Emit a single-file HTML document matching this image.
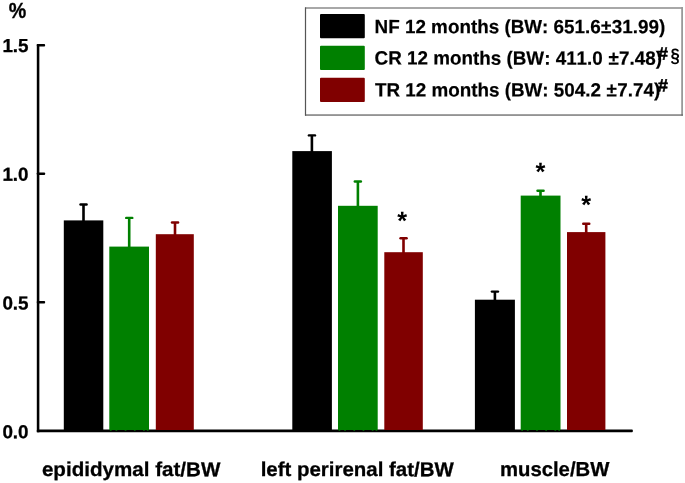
<!DOCTYPE html>
<html><head><meta charset="utf-8"><title>chart</title>
<style>
html,body{margin:0;padding:0;background:#fff;}
svg{display:block;}
text{font-family:"Liberation Sans",sans-serif;font-weight:bold;fill:#000;font-kerning:none;}
</style></head><body>
<svg width="685" height="483" viewBox="0 0 685 483">
<rect width="685" height="483" fill="#fff"/>
<!-- axes -->
<rect x="36.8" y="44.1" width="2.55" height="388.2" fill="#000"/>
<rect x="36.8" y="429.6" width="596" height="2.7" rx="0.8" fill="#000"/>
<rect x="36.8" y="44.1" width="8.3" height="2.5" rx="0.8" fill="#000"/>
<rect x="36.8" y="172.5" width="8.3" height="2.5" rx="0.8" fill="#000"/>
<rect x="36.8" y="301" width="8.3" height="2.5" rx="0.8" fill="#000"/>
<!-- y labels -->
<text x="8.8" y="18" font-size="20" textLength="17.5" lengthAdjust="spacingAndGlyphs" transform="translate(0,18) scale(1,1.145) translate(0,-18)" stroke="#000" stroke-width="0.3">%</text>
<text x="2.4" y="51.9" font-size="18.85" stroke="#000" stroke-width="0.3" transform="rotate(0.03 15 46)">1.5</text>
<text x="2.4" y="180.7" font-size="18.85" stroke="#000" stroke-width="0.3" transform="rotate(0.03 15 175)">1.0</text>
<text x="2.4" y="309.4" font-size="18.85" stroke="#000" stroke-width="0.3" transform="rotate(0.03 15 303)">0.5</text>
<text x="2.4" y="438.2" font-size="18.85" stroke="#000" stroke-width="0.3" transform="rotate(0.03 15 432)">0.0</text>
<!-- error bars group1 -->
<g fill="#000">
<rect x="82.2" y="204.3" width="2.6" height="17"/><rect x="79.3" y="203.3" width="8.5" height="2.4" rx="1.2"/>
<rect x="310.6" y="135.2" width="2.6" height="17"/><rect x="307.7" y="134.2" width="8.5" height="2.4" rx="1.2"/>
<rect x="493.6" y="291.4" width="2.6" height="10"/><rect x="490.7" y="290.4" width="8.5" height="2.4" rx="1.2"/>
</g>
<g fill="#008000">
<rect x="127.9" y="217.7" width="2.6" height="30"/><rect x="125" y="216.7" width="8.5" height="2.4" rx="1.2"/>
<rect x="356.6" y="181.3" width="2.6" height="26"/><rect x="353.6" y="180.3" width="8.5" height="2.4" rx="1.2"/>
<rect x="539.2" y="190.5" width="2.6" height="7"/><rect x="536.3" y="189.5" width="8.5" height="2.4" rx="1.2"/>
</g>
<g fill="#800000">
<rect x="173.7" y="222.3" width="2.6" height="13"/><rect x="170.8" y="221.3" width="8.5" height="2.4" rx="1.2"/>
<rect x="402.2" y="237.6" width="2.6" height="16"/><rect x="399.3" y="237" width="8.5" height="2.4" rx="1.2"/>
<rect x="584.9" y="223.5" width="2.6" height="10"/><rect x="582" y="222.5" width="8.5" height="2.4" rx="1.2"/>
</g>
<!-- group1 -->
<rect x="63.8" y="220.4" width="39.5" height="209.6" fill="#000"/>
<rect x="109.3" y="246.6" width="39.7" height="183.4" fill="#008000"/>
<rect x="155.8" y="234.2" width="38" height="195.8" fill="#800000"/>
<!-- group2 -->
<rect x="292.3" y="151.1" width="39.6" height="278.9" fill="#000"/>
<rect x="338" y="205.8" width="39.7" height="224.2" fill="#008000"/>
<rect x="384.3" y="252.2" width="38.5" height="177.8" fill="#800000"/>
<!-- group3 -->
<rect x="474.9" y="299.7" width="40" height="130.3" fill="#000"/>
<rect x="520.7" y="195.6" width="39.8" height="234.4" fill="#008000"/>
<rect x="567" y="232.1" width="38.4" height="197.9" fill="#800000"/>
<g fill="#008000" opacity="0.75">
<rect x="109.9" y="429.9" width="1.7" height="1"/><rect x="115.5" y="429.9" width="1.7" height="1"/><rect x="124.7" y="429.9" width="1.7" height="1"/><rect x="133.9" y="429.9" width="1.7" height="1"/><rect x="143.1" y="429.9" width="1.7" height="1"/><rect x="146.9" y="429.9" width="1.7" height="1"/>
<rect x="338.6" y="429.9" width="1.7" height="1"/><rect x="344.2" y="429.9" width="1.7" height="1"/><rect x="353.4" y="429.9" width="1.7" height="1"/><rect x="362.6" y="429.9" width="1.7" height="1"/><rect x="371.8" y="429.9" width="1.7" height="1"/><rect x="375.6" y="429.9" width="1.7" height="1"/>
<rect x="521.3" y="429.9" width="1.7" height="1"/><rect x="526.9" y="429.9" width="1.7" height="1"/><rect x="536.1" y="429.9" width="1.7" height="1"/><rect x="545.3" y="429.9" width="1.7" height="1"/><rect x="554.5" y="429.9" width="1.7" height="1"/><rect x="558.3" y="429.9" width="1.7" height="1"/>
</g>
<!-- asterisks -->
<text x="397.3" y="229.2" font-size="25.3" transform="rotate(0.03 402.3 223.6)">*</text>
<text x="535.5" y="180.2" font-size="25.3" transform="rotate(0.03 540.5 174.2)">*</text>
<text x="581.2" y="213.2" font-size="25.3" transform="rotate(0.03 586.2 207.2)">*</text>
<!-- x labels -->
<text x="41.9" y="0" font-size="20.6" transform="rotate(0.03 131 470) translate(0,476.1) scale(1,0.97)" stroke="#000" stroke-width="0.3">epididymal fat/BW</text>
<text x="260.7" y="0" font-size="20.45" transform="rotate(0.03 357 470) translate(0,476.1) scale(1,0.985)" stroke="#000" stroke-width="0.3">left perirenal fat/BW</text>
<text x="500" y="0" font-size="20.3" transform="rotate(0.03 555 470) translate(0,476.05) scale(1,1)" stroke="#000" stroke-width="0.3">muscle/BW</text>
<!-- legend -->
<rect x="305" y="7" width="378" height="2" fill="#a8a8a8"/>
<rect x="681.2" y="7" width="1.8" height="108.6" fill="#999"/>
<rect x="305" y="114.4" width="378" height="1.3" fill="#666"/>
<rect x="304.9" y="7.4" width="1.2" height="108.3" fill="#555"/>
<rect x="320" y="14" width="44.8" height="24.2" rx="1" fill="#000"/>
<rect x="320" y="45.8" width="44.8" height="24.2" rx="1" fill="#008000"/>
<rect x="320" y="77.7" width="44.8" height="24.2" rx="1" fill="#800000"/>
<g font-size="18.85" stroke="#000" stroke-width="0.2">
<text x="374.6" y="0" transform="rotate(0.03 519 27) translate(0,33.25) scale(1,1.025)">NF 12 months (BW: 651.6<tspan dx="0.33">±</tspan><tspan dx="0.33">31.99)</tspan></text>
<text x="374.6" y="0" transform="rotate(0.03 518 58) translate(0,64.65) scale(1,1.025)">CR 12 months (BW: 411.0 <tspan dx="0.33">±</tspan><tspan dx="0.33">7.48)</tspan></text>
<text x="374.9" y="0" transform="rotate(0.03 518 90) translate(0,96.55) scale(1,1.025)">TR 12 months (BW: 504.2 <tspan dx="0.33">±</tspan><tspan dx="0.33">7.74)</tspan></text>
</g>
<g id="sup">
<text x="657.6" y="59.8" font-size="18" font-style="italic" textLength="10.2" lengthAdjust="spacingAndGlyphs" stroke="#000" stroke-width="0.5" transform="rotate(0.03 663.4 53.9)">#</text>
<text x="670.4" y="61.7" font-size="19.3" textLength="9.3" lengthAdjust="spacingAndGlyphs" transform="rotate(0.03 675.2 55.0)">§</text>
<text x="657.6" y="91.5" font-size="18" font-style="italic" textLength="10.2" lengthAdjust="spacingAndGlyphs" stroke="#000" stroke-width="0.5" transform="rotate(0.03 663.4 85.4)">#</text>
</g>
</svg>
</body></html>
